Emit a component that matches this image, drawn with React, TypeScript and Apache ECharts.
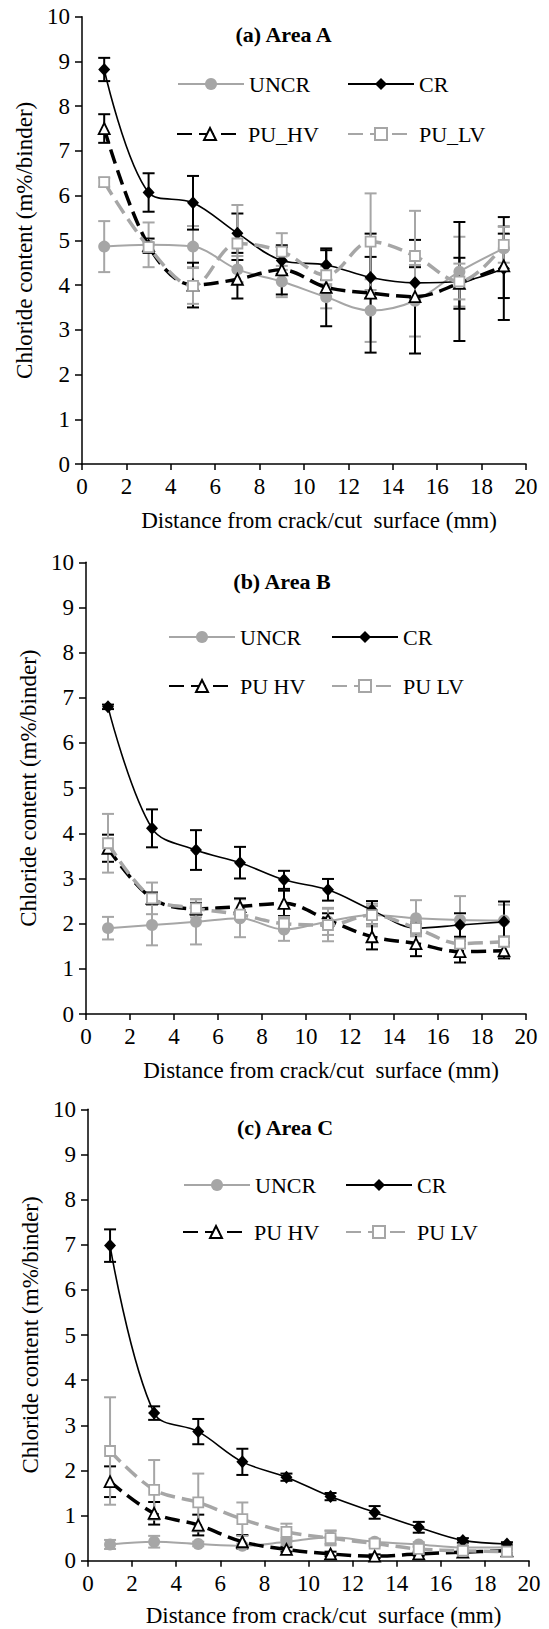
import React, { useEffect, useRef } from "react";
import * as echarts from "echarts";

const X_POS = [1, 3, 5, 7, 9, 11, 13, 15, 17, 19];
const X_TICKS = [0, 2, 4, 6, 8, 10, 12, 14, 16, 18, 20];
const Y_TICKS = [0, 1, 2, 3, 4, 5, 6, 7, 8, 9, 10];

const PANEL_TITLES = ["(a) Area A", "(b) Area B", "(c) Area C"];
const X_TITLE = "Distance from crack/cut  surface (mm)";
const Y_TITLE = "Chloride content (m%/binder)";

// Panel A
const A_UNCR = [4.86, 4.9, 4.86, 4.35, 4.08, 3.73, 3.43, 3.65, 4.3, 4.82];
const A_UNCR_ERR = [0.57, 0.5, 0.46, 0.3, 0.35, 0.25, 0.7, 0.8, 0.78, 0.5];
const A_CR = [8.82, 6.07, 5.84, 5.16, 4.55, 4.45, 4.17, 4.05, 4.08, 4.37];
const A_CR_ERR = [0.26, 0.43, 0.6, 0.44, 0.3, 0.33, 0.46, 0.35, 1.33, 1.15];
const A_HV = [7.5, 4.88, 4.0, 4.13, 4.34, 3.95, 3.82, 3.74, 4.04, 4.43];
const A_HV_ERR = [0.32, 0.16, 0.5, 0.43, 0.55, 0.87, 1.33, 1.27, 0.57, 0.72];
const A_LV = [6.3, 4.85, 3.98, 4.93, 4.75, 4.22, 4.97, 4.65, 4.08, 4.9];
const A_LV_ERR = [0.1, 0.1, 0.4, 0.86, 0.41, 0.2, 1.08, 1.01, 0.4, 0.4];

// Panel B
const B_UNCR = [1.9, 1.97, 2.04, 2.12, 1.87, 2.05, 2.19, 2.12, 2.08, 2.07];
const B_UNCR_ERR = [0.25, 0.45, 0.5, 0.42, 0.25, 0.3, 0.25, 0.4, 0.53, 0.35];
const B_CR = [6.8, 4.11, 3.63, 3.35, 2.97, 2.75, 2.3, 1.9, 1.97, 2.04];
const B_CR_ERR = [0.05, 0.42, 0.44, 0.35, 0.2, 0.24, 0.2, 0.1, 0.26, 0.45];
const B_HV = [3.67, 2.56, 2.33, 2.38, 2.45, 2.08, 1.71, 1.56, 1.38, 1.4];
const B_HV_ERR = [0.3, 0.13, 0.13, 0.18, 0.28, 0.15, 0.28, 0.28, 0.24, 0.17];
const B_LV = [3.78, 2.56, 2.34, 2.2, 2.0, 1.97, 2.19, 1.9, 1.56, 1.6];
const B_LV_ERR = [0.65, 0.35, 0.2, 0.1, 0.15, 0.36, 0.2, 0.15, 0.1, 0.1];

// Panel C
const C_UNCR = [0.36, 0.42, 0.37, 0.33, 0.42, 0.52, 0.42, 0.36, 0.29, 0.3];
const C_UNCR_ERR = [0.1, 0.13, 0.05, 0.05, 0.08, 0.15, 0.06, 0.05, 0.04, 0.04];
const C_CR = [6.98, 3.27, 2.86, 2.19, 1.85, 1.42, 1.07, 0.74, 0.45, 0.37];
const C_CR_ERR = [0.36, 0.15, 0.28, 0.29, 0.08, 0.08, 0.14, 0.12, 0.05, 0.04];
const C_HV = [1.75, 1.05, 0.79, 0.42, 0.25, 0.15, 0.1, 0.15, 0.19, 0.22];
const C_HV_ERR = [0.34, 0.25, 0.23, 0.15, 0.05, 0.05, 0.04, 0.04, 0.04, 0.05];
const C_LV = [2.43, 1.57, 1.29, 0.92, 0.64, 0.5, 0.38, 0.26, 0.22, 0.2];
const C_LV_ERR = [1.19, 0.66, 0.64, 0.37, 0.18, 0.16, 0.06, 0.05, 0.04, 0.04];

const GREY = "#A6A6A6";
const FONT = "'Liberation Serif', 'Times New Roman', serif";

type Panel = {
  names: string[];
  values: number[][];
  errs: number[][];
  grid: { left: number; top: number; width: number; height: number };
  titlePos: [number, number];
  legendRows: [number, number];
  legendLefts: number[];
  nameGapX: number;
};

const PANELS: Panel[] = [
  {
    names: ["UNCR", "CR", "PU_HV", "PU_LV"],
    values: [A_UNCR, A_CR, A_HV, A_LV],
    errs: [A_UNCR_ERR, A_CR_ERR, A_HV_ERR, A_LV_ERR],
    grid: { left: 82, top: 16.7, width: 444, height: 447.3 },
    titlePos: [283.5, 35],
    legendRows: [85, 135],
    legendLefts: [177, 347, 176, 347],
    nameGapX: 45,
  },
  {
    names: ["UNCR", "CR", "PU HV", "PU LV"],
    values: [B_UNCR, B_CR, B_HV, B_LV],
    errs: [B_UNCR_ERR, B_CR_ERR, B_HV_ERR, B_LV_ERR],
    grid: { left: 86, top: 562.3, width: 440, height: 451.7 },
    titlePos: [282, 582],
    legendRows: [638, 687],
    legendLefts: [168, 331, 168, 331],
    nameGapX: 45,
  },
  {
    names: ["UNCR", "CR", "PU HV", "PU LV"],
    values: [C_UNCR, C_CR, C_HV, C_LV],
    errs: [C_UNCR_ERR, C_CR_ERR, C_HV_ERR, C_LV_ERR],
    grid: { left: 88, top: 1109.3, width: 441, height: 451.4 },
    titlePos: [285, 1128],
    legendRows: [1186, 1233],
    legendLefts: [183, 345, 182, 345],
    nameGapX: 43,
  },
];

const STYLES = [
  {
    color: GREY,
    line: { color: GREY, width: 2, type: "solid" as any },
    symbol: "circle",
    symbolSize: 12,
    item: { color: GREY, borderColor: GREY, borderWidth: 0 },
  },
  {
    color: "#000",
    line: { color: "#000", width: 1.6, type: "solid" as any },
    symbol: "diamond",
    symbolSize: [12, 13],
    item: { color: "#000", borderColor: "#000", borderWidth: 0 },
  },
  {
    color: "#000",
    line: { color: "#000", width: 3.5, type: [15, 7] as any },
    symbol: "triangle",
    symbolSize: 11,
    item: { color: "#fff", borderColor: "#000", borderWidth: 1.8 },
  },
  {
    color: GREY,
    line: { color: GREY, width: 3.5, type: [15, 7] as any },
    symbol: "rect",
    symbolSize: 10,
    item: { color: "#fff", borderColor: GREY, borderWidth: 1.8 },
  },
];

function errorRender(color: string) {
  return (params: any, api: any) => {
    const x = api.value(0);
    const y = api.value(1);
    const e = api.value(2);
    const top = api.coord([x, y + e]);
    const bot = api.coord([x, y - e]);
    const hw = 6;
    const style = { stroke: color, lineWidth: 2 };
    return {
      type: "group",
      children: [
        { type: "line", shape: { x1: top[0], y1: top[1], x2: bot[0], y2: bot[1] }, style },
        { type: "line", shape: { x1: top[0] - hw, y1: top[1], x2: top[0] + hw, y2: top[1] }, style },
        { type: "line", shape: { x1: bot[0] - hw, y1: bot[1], x2: bot[0] + hw, y2: bot[1] }, style },
      ],
    };
  };
}

const TXT = { color: "#000", fontFamily: FONT, fontSize: 22 };
const TXT_AXIS = { color: "#000", fontFamily: FONT, fontSize: 23 };

function buildOption() {
  const grid: any[] = [];
  const xAxis: any[] = [];
  const yAxis: any[] = [];
  const series: any[] = [];
  const legend: any[] = [];
  const title: any[] = [];

  PANELS.forEach((p, pi) => {
    grid.push({ ...p.grid });
    xAxis.push({
      type: "value",
      gridIndex: pi,
      min: X_TICKS[0],
      max: X_TICKS[X_TICKS.length - 1],
      interval: X_TICKS[1] - X_TICKS[0],
      splitLine: { show: false },
      axisLine: { show: true, onZero: false, lineStyle: { color: "#000", width: 1.5 } },
      axisTick: { show: true, inside: false, length: 6, lineStyle: { color: "#000", width: 1.5 } },
      axisLabel: { ...TXT_AXIS, margin: 11 },
      name: X_TITLE,
      nameLocation: "middle",
      nameGap: p.nameGapX,
      nameTextStyle: { ...TXT_AXIS, padding: [0, 0, 0, 30] },
    });
    yAxis.push({
      type: "value",
      gridIndex: pi,
      min: Y_TICKS[0],
      max: Y_TICKS[Y_TICKS.length - 1],
      interval: Y_TICKS[1] - Y_TICKS[0],
      splitLine: { show: false },
      axisLine: { show: true, lineStyle: { color: "#000", width: 1.5 } },
      axisTick: { show: true, inside: false, length: 7, lineStyle: { color: "#000", width: 1.5 } },
      axisLabel: { ...TXT_AXIS, margin: 12 },
      name: Y_TITLE,
      nameLocation: "middle",
      nameGap: 37,
      nameRotate: 90,
      nameTextStyle: { ...TXT_AXIS },
    });

    title.push({
      text: PANEL_TITLES[pi],
      left: p.titlePos[0],
      top: p.titlePos[1] - 12,
      textAlign: "center",
      padding: 0,
      textStyle: { ...TXT, fontWeight: "bold" },
    });

    p.names.forEach((name, si) => {
      const st = STYLES[si];
      series.push({
        type: "custom",
        name: name + " error",
        xAxisIndex: pi,
        yAxisIndex: pi,
        z: 1,
        silent: true,
        renderItem: errorRender(st.color),
        encode: { x: 0, y: 1 },
        data: X_POS.map((x, i) => [x, p.values[si][i], p.errs[si][i]]),
      });
    });
    p.names.forEach((name, si) => {
      const st = STYLES[si];
      series.push({
        type: "line",
        name,
        xAxisIndex: pi,
        yAxisIndex: pi,
        z: 2 + si,
        smooth: 0.35,
        symbol: st.symbol,
        symbolSize: st.symbolSize,
        showAllSymbol: true,
        lineStyle: { ...st.line, cap: "butt" },
        itemStyle: st.item,
        data: X_POS.map((x, i) => [x, p.values[si][i]]),
      });
    });

    p.names.forEach((name, si) => {
      const row = si < 2 ? 0 : 1;
      legend.push({
        data: [name],
        left: p.legendLefts[si],
        top: p.legendRows[row] - 12,
        padding: 0,
        itemWidth: 66,
        itemHeight: 15,
        selectedMode: false,
        textStyle: { ...TXT },
      });
    });
  });

  return {
    animation: false,
    backgroundColor: "#fff",
    textStyle: { fontFamily: FONT, color: "#000" },
    title,
    grid,
    xAxis,
    yAxis,
    legend,
    series,
  };
}

export default function App() {
  const ref = useRef<HTMLDivElement>(null);
  useEffect(() => {
    document.body.style.margin = "0";
    if (!ref.current) return;
    const chart = echarts.init(ref.current, undefined, { renderer: "svg" });
    chart.setOption(buildOption() as any);
    return () => chart.dispose();
  }, []);
  return <div ref={ref} style={{ width: 549, height: 1629 }} />;
}
